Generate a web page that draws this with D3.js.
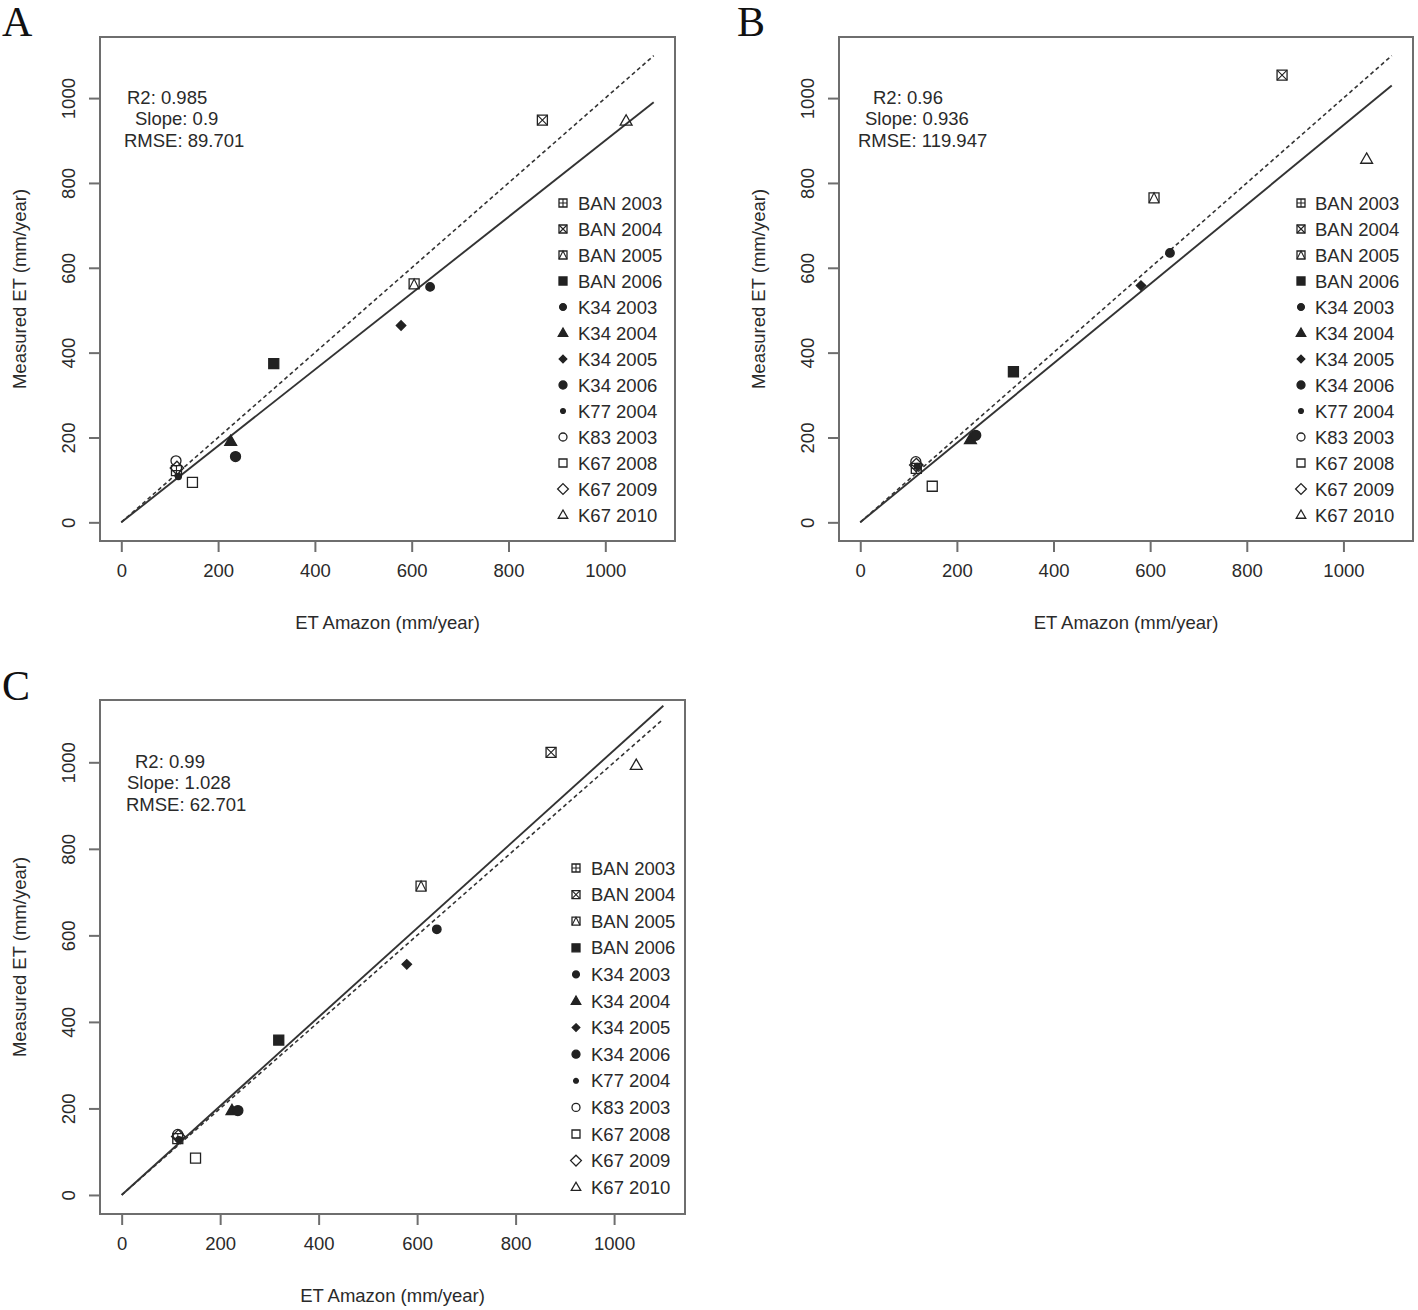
<!DOCTYPE html>
<html>
<head>
<meta charset="utf-8">
<script src="https://cdn.jsdelivr.net/npm/d3@7"></script>
<style>
  html, body { margin: 0; padding: 0; background: #fff; }
  svg { display: block; }
  text { font-family: "Liberation Sans", Arial, Helvetica, sans-serif; fill: #2a2a2a; }
</style>
</head>
<body>
<svg id="chart" width="1418" height="1310"></svg>
<script>
// ---------------- DATA ----------------
const seriesNames = ["BAN 2003","BAN 2004","BAN 2005","BAN 2006","K34 2003","K34 2004","K34 2005","K34 2006","K77 2004","K83 2003","K67 2008","K67 2009","K67 2010"];
const pchCodes    = [12, 7, 14, 15, 16, 17, 18, 19, 20, 1, 0, 5, 2];

const xTicks = [0, 200, 400, 600, 800, 1000];
const yTicks = [0, 200, 400, 600, 800, 1000];

// Panel A
const etAmazonA = [114, 870, 605, 315, 638, 226, 578, 236, 118, 113, 147, 115, 1043];
const measuredA = [122, 948, 562, 374, 555, 191, 464, 155, 108, 145,  94, 128,  946];
const statsA = ["R2: 0.985", "Slope: 0.9", "RMSE: 89.701"];
const slopeA = 0.9;

// Panel B
const etAmazonB = [116, 873, 608, 317, 641, 228, 581, 239, 118, 115, 149, 116, 1048];
const measuredB = [127, 1054, 765, 355, 635, 195, 558, 205, 132, 143,  85, 135,  856];
const statsB = ["R2: 0.96", "Slope: 0.936", "RMSE: 119.947"];
const slopeB = 0.936;

// Panel C
const etAmazonC = [114, 872, 608, 319, 640, 224, 579, 236, 116, 114, 150, 115, 1045];
const measuredC = [130, 1023, 714, 358, 614, 195, 533, 195, 128, 140,  85, 135,  993];
const statsC = ["R2: 0.99", "Slope: 1.028", "RMSE: 62.701"];
const slopeC = 1.028;

const xLabel = "ET Amazon (mm/year)";
const yLabel = "Measured ET (mm/year)";
const lineRange = [0, 1100];
const axisDomain = [-44, 1144];

// ---------------- DRAW ----------------
const svg = d3.select("#chart");
const INK = "#222";
const BOX = "#6e6e6e";
const FS = 18.5;

function symbolPath(pch, s) {
  const p = d3.path();
  switch (pch) {
    case 0: case 15: case 12: case 7: case 14:
      p.rect(-s, -s, 2*s, 2*s); break;
    case 1: case 16: case 19:
      p.arc(0, 0, s, 0, 2*Math.PI); break;
    case 20:
      p.arc(0, 0, s*0.6, 0, 2*Math.PI); break;
    case 2: case 17: {
      const h = s*1.25;
      p.moveTo(0, -h); p.lineTo(h*0.95, h*0.65); p.lineTo(-h*0.95, h*0.65); p.closePath(); break;
    }
    case 5: {
      const d = s*1.35;
      p.moveTo(0,-d); p.lineTo(d,0); p.lineTo(0,d); p.lineTo(-d,0); p.closePath(); break;
    }
    case 18: {
      const d = s*0.95;
      p.moveTo(0,-d); p.lineTo(d,0); p.lineTo(0,d); p.lineTo(-d,0); p.closePath(); break;
    }
  }
  return p.toString();
}

function drawSymbol(g, pch, x, y, s) {
  const filled = [15,16,17,18,19,20].includes(pch);
  const sym = g.append("g").attr("transform", `translate(${x},${y})`);
  let size = s;
  if (pch === 16) size = s*0.85;
  sym.append("path")
    .attr("d", symbolPath(pch, size))
    .attr("fill", filled ? INK : "none")
    .attr("stroke", INK)
    .attr("stroke-width", 1.3);
  if (pch === 12) {
    sym.append("path").attr("d", `M${-s},0H${s}M0,${-s}V${s}`).attr("stroke", INK).attr("stroke-width", 1.1);
  } else if (pch === 7) {
    sym.append("path").attr("d", `M${-s},${-s}L${s},${s}M${-s},${s}L${s},${-s}`).attr("stroke", INK).attr("stroke-width", 1.1);
  } else if (pch === 14) {
    sym.append("path").attr("d", `M${-s},${s}L0,${-s}L${s},${s}`).attr("fill","none").attr("stroke", INK).attr("stroke-width", 1.1);
  }
}

function panel(cfg) {
  const { left, right, top, bottom, xs, ys, stats, statPos, slope, legend, letter } = cfg;
  const x = d3.scaleLinear().domain(axisDomain).range([left, right]);
  const y = d3.scaleLinear().domain(axisDomain).range([bottom, top]);
  const g = svg.append("g");

  // Panel letter
  g.append("text").attr("x", letter.x).attr("y", letter.y)
    .style("font-family", "'Liberation Serif', 'Times New Roman', serif")
    .attr("font-size", 42).style("fill", "#111").text(letter.t);

  // Box
  g.append("rect").attr("x", left).attr("y", top).attr("width", right-left).attr("height", bottom-top)
    .attr("fill", "none").attr("stroke", BOX).attr("stroke-width", 2);

  // Axes
  const fmt = d3.format("d");
  const xAxis = d3.axisBottom(x).tickValues(xTicks).tickFormat(fmt).tickSize(11).tickPadding(12).tickSizeOuter(0);
  const xa = g.append("g").attr("transform", `translate(0,${bottom})`).call(xAxis);
  xa.select(".domain").attr("stroke", BOX).attr("stroke-width", 2)
    .attr("d", `M${x(xTicks[0])},0H${x(xTicks[xTicks.length-1])}`);
  xa.selectAll(".tick line").attr("stroke", BOX).attr("stroke-width", 2);
  xa.selectAll(".tick text").attr("font-size", FS).attr("font-family", null).style("fill", "#2a2a2a");

  const yAxis = d3.axisLeft(y).tickValues(yTicks).tickFormat(fmt).tickSize(11).tickSizeOuter(0);
  const ya = g.append("g").attr("transform", `translate(${left},0)`).call(yAxis);
  ya.select(".domain").attr("stroke", BOX).attr("stroke-width", 2)
    .attr("d", `M0,${y(yTicks[0])}V${y(yTicks[yTicks.length-1])}`);
  ya.selectAll(".tick line").attr("stroke", BOX).attr("stroke-width", 2);
  ya.selectAll(".tick text").attr("font-size", FS).attr("font-family", null).style("fill", "#2a2a2a")
    .attr("x", null).attr("dy", null)
    .attr("transform", "translate(-32,0) rotate(-90)")
    .attr("text-anchor", "middle").attr("dominant-baseline", "central");

  // Axis titles
  g.append("text").attr("x", (left+right)/2).attr("y", bottom + 88)
    .attr("text-anchor", "middle").attr("font-size", FS).text(xLabel);
  g.append("text").attr("transform", `translate(${left-74},${(top+bottom)/2}) rotate(-90)`)
    .attr("text-anchor", "middle").attr("font-size", FS).text(yLabel);

  // 1:1 dashed line
  g.append("line").attr("x1", x(lineRange[0])).attr("y1", y(lineRange[0]))
    .attr("x2", x(lineRange[1])).attr("y2", y(lineRange[1]))
    .attr("stroke", "#333").attr("stroke-width", 1.6).attr("stroke-dasharray", "4,3");
  // regression solid line
  g.append("line").attr("x1", x(lineRange[0])).attr("y1", y(lineRange[0]*slope))
    .attr("x2", x(lineRange[1])).attr("y2", y(lineRange[1]*slope))
    .attr("stroke", "#333").attr("stroke-width", 1.9);

  // Points
  const pts = g.append("g");
  seriesNames.forEach((n, i) => {
    drawSymbol(pts, pchCodes[i], x(xs[i]), y(ys[i]), 5);
  });

  // Stats text
  stats.forEach((t, i) => {
    g.append("text").attr("x", statPos[i][0]).attr("y", statPos[i][1])
      .attr("dominant-baseline", "central").attr("font-size", FS).text(t);
  });

  // Legend
  seriesNames.forEach((n, i) => {
    const ly = legend.y0 + i*legend.step;
    drawSymbol(g, pchCodes[i], legend.sx, ly, 4);
    g.append("text").attr("x", legend.tx).attr("y", ly)
      .attr("dominant-baseline", "central").attr("font-size", FS).text(n);
  });
}

panel({ left: 100, right: 675, top: 37, bottom: 541, xs: etAmazonA, ys: measuredA,
  stats: statsA, statPos: [[127,97],[135,118],[124,140]], slope: slopeA,
  legend: { sx: 563, tx: 578, y0: 203, step: 26 }, letter: { x: 2, y: 36, t: "A" } });

panel({ left: 839, right: 1413, top: 37, bottom: 541, xs: etAmazonB, ys: measuredB,
  stats: statsB, statPos: [[873,97],[865,118],[858,140]], slope: slopeB,
  legend: { sx: 1301, tx: 1315, y0: 203, step: 26 }, letter: { x: 737, y: 36, t: "B" } });

panel({ left: 100, right: 685, top: 700, bottom: 1214, xs: etAmazonC, ys: measuredC,
  stats: statsC, statPos: [[135,761],[127,782],[126,804]], slope: slopeC,
  legend: { sx: 576, tx: 591, y0: 868, step: 26.6 }, letter: { x: 2, y: 700, t: "C" } });
</script>
</body>
</html>
